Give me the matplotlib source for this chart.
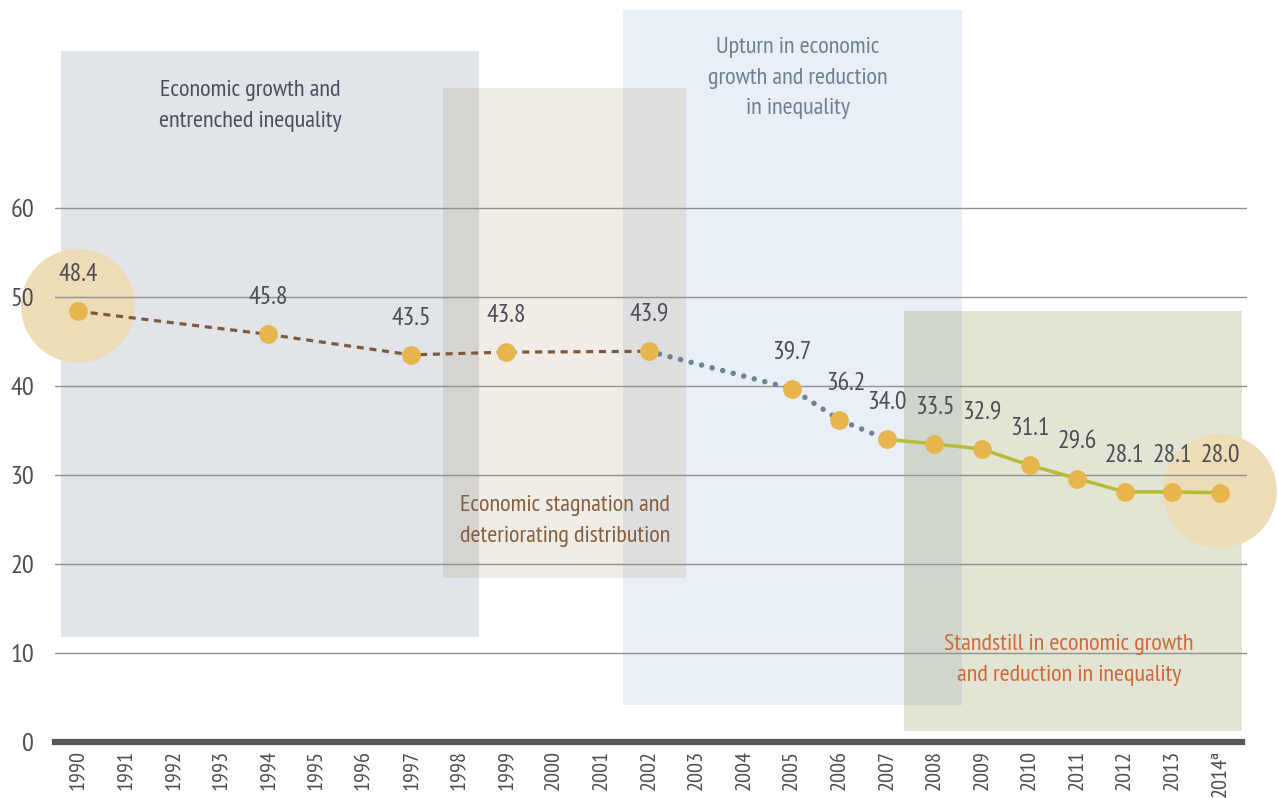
import matplotlib
matplotlib.use("Agg")
import matplotlib.pyplot as plt
from matplotlib.patches import Rectangle

plt.rcParams['font.family'] = ['PT Sans Narrow', 'DejaVu Sans']

# categorias del eje x
years = ['1990', '1991', '1992', '1993', '1994', '1995', '1996', '1997', '1998',
         '1999', '2000', '2001', '2002', '2003', '2004', '2005', '2006', '2007',
         '2008', '2009', '2010', '2011', '2012', '2013', '2014ª']
# datos de la serie
point_years = ['1990', '1994', '1997', '1999', '2002', '2005', '2006', '2007',
               '2008', '2009', '2010', '2011', '2012', '2013', '2014ª']
values = [48.4, 45.8, 43.5, 43.8, 43.9, 39.7, 36.2, 34.0,
          33.5, 32.9, 31.1, 29.6, 28.1, 28.1, 28.0]
y_ticks = [0, 10, 20, 30, 40, 50, 60]

# periodos (texto)
period_texts = ['Economic growth and\nentrenched inequality',
                'Economic stagnation and\ndeteriorating distribution',
                'Upturn in economic\ngrowth and reduction\nin inequality',
                'Standstill in economic growth\nand reduction in inequality']

xi = [years.index(y) for y in point_years]

fig = plt.figure(figsize=(12.78, 7.98), dpi=100)
ax = fig.add_axes([55 / 1278, 56 / 798, 1192 / 1278, 742 / 798])
ax.set_xlim(-0.483, 24.57)
ax.set_ylim(0, 83.37)

# cajas de los periodos: (x0, x1, y0, y1, color, alpha)
boxes = [(-0.357, 8.43, 11.8, 77.6, (55/255, 75/255, 108/255), 0.15),
         (7.67, 12.78, 18.4, 73.5, (125/255, 75/255, 5/255), 0.10),
         (11.45, 18.58, 4.2, 82.2, (45/255, 105/255, 175/255), 0.10),
         (17.36, 24.46, 1.2, 48.4, (84/255, 102/255, 2/255), 0.17)]
for x0, x1, y0, y1, c, a in boxes:
    ax.add_patch(Rectangle((x0, y0), x1 - x0, y1 - y0, facecolor=c, alpha=a,
                           edgecolor='none', zorder=1, clip_on=False))

# textos de los periodos
text_pos = [(3.62, 71.5, '#4a5060'), (10.23, 24.8, '#86603e'),
            (15.13, 74.6, '#6f7f94'), (20.83, 9.2, '#d0693a')]
for txt, (x, y, c) in zip(period_texts, text_pos):
    ax.text(x, y, txt, ha='center', va='center', fontsize=17.5, color=c,
            linespacing=1.62, zorder=5)

# circulos grandes en los extremos
ax.scatter([xi[0], xi[-1]], [values[0] + 0.6, values[-1] + 0.2], s=6724,
           color='#eddcb6', edgecolor='none', zorder=2, clip_on=False)

# lineas de la cuadricula
ax.set_yticks(y_ticks)
ax.yaxis.grid(True, color='#929292', lw=1)
ax.set_axisbelow(False)
for gl in ax.get_ygridlines():
    gl.set_zorder(3)

# tramos de la serie
ax.plot(xi[:5], values[:5], ls=(0, (2.2, 1.8)), lw=2.3, color='#7f5a3a', zorder=4)
ax.plot(xi[4:8], values[4:8], ls=(0, (0.01, 2.0)), lw=3.9, color='#6f7f94',
        dash_capstyle='round', solid_capstyle='round', zorder=4)
ax.plot(xi[7:], values[7:], ls='-', lw=2.5, color='#b5bd35', zorder=4)
ax.plot(xi, values, ls='none', marker='o', ms=13.5, color='#e6b54c',
        markeredgewidth=0, zorder=6)

for x, v in zip(xi, values):
    dx = 5 if v == 36.2 else 0
    ax.annotate(f'{v:.1f}', (x, v), xytext=(dx, 26.5),
                textcoords='offset points', ha='center', va='center',
                fontsize=18.5, color='#4d4d55', zorder=7)

ax.set_xticks(range(len(years)))
ax.set_xticklabels(years, rotation=90, fontsize=16, color='#4d4d55')
ax.set_yticklabels([str(t) for t in y_ticks], fontsize=19, color='#4d4d55')
ax.tick_params(axis='both', length=0)
ax.tick_params(axis='x', pad=6)
ax.tick_params(axis='y', pad=15)

for s in ['top', 'right', 'left']:
    ax.spines[s].set_visible(False)
ax.spines['bottom'].set_linewidth(4.5)
ax.spines['bottom'].set_color('#58585a')
ax.spines['bottom'].set_bounds(-0.483, 24.46)
ax.spines['bottom'].set_zorder(8)

fig.savefig('out.png', dpi=100)
